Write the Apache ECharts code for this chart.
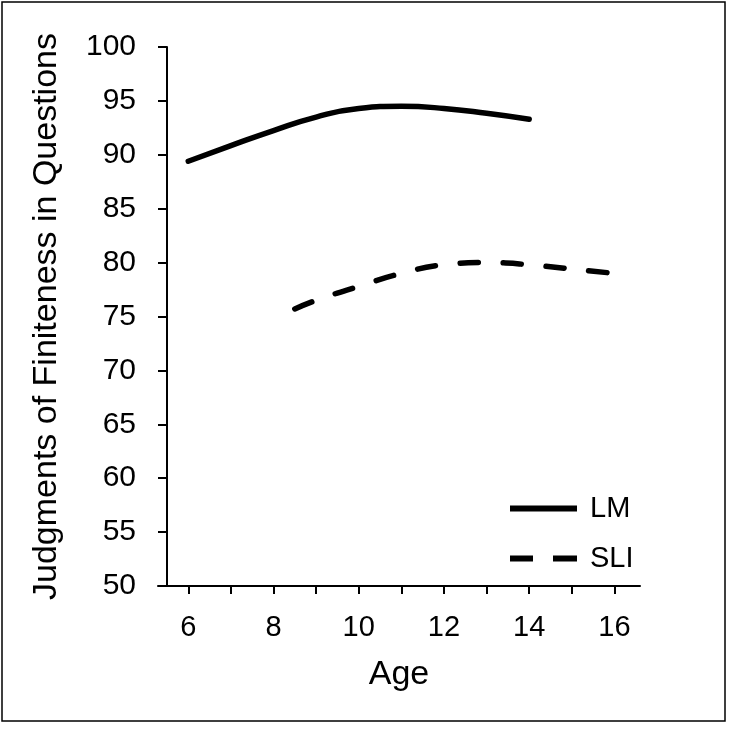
<!DOCTYPE html>
<html>
<head>
<meta charset="utf-8">
<script src="https://cdn.jsdelivr.net/npm/echarts@6/dist/echarts.min.js"></script>
<style>
  html, body { margin: 0; padding: 0; background: #fff; }
  #main { width: 729px; height: 729px; }
</style>
</head>
<body>
<div id="main"></div>
<script>
// values
var lmAges = [6, 7, 8, 9, 10, 11, 12, 13, 14];
var lmValues = [89.4, 90.85, 92.25, 93.5, 94.3, 94.5, 94.3, 93.85, 93.3];
var sliAges = [8.5, 9, 10, 11, 12, 13, 14, 15, 16];
var sliValues = [75.7, 76.5, 77.8, 79.0, 79.8, 80.0, 79.8, 79.4, 79.0];
var xTicks = [6, 7, 8, 9, 10, 11, 12, 13, 14, 15, 16];
var xLabels = [6, 8, 10, 12, 14, 16];

function pairs(xs, ys) {
    return xs.map(function (x, i) { return [x, ys[i]]; });
}

var font = 'Liberation Sans, Arial, sans-serif';
var chart = echarts.init(document.getElementById('main'));

// legend icons: solid bar and two dashes, both 67 x 6
var solidIcon = 'path://M0,0h67v6h-67z';
var dashIcon = 'path://M0,0h23v6h-23z M43,0h24v6h-24z';

var option = {
    animation: false,
    backgroundColor: '#fff',
    graphic: [{
        type: 'rect',
        shape: { x: 2, y: 2, width: 723, height: 719 },
        style: { fill: 'none', stroke: '#000', lineWidth: 1.5 }
    }],
    grid: { left: 158, right: 89, top: 47, bottom: 143 },
    legend: {
        orient: 'vertical',
        left: 505,
        top: 489,
        itemWidth: 67,
        itemHeight: 6,
        itemGap: 21,
        textStyle: { fontFamily: font, fontSize: 29, color: '#000', padding: [0, 0, 0, 8] },
        data: [
            { name: 'LM', icon: solidIcon },
            { name: 'SLI', icon: dashIcon }
        ]
    },
    xAxis: {
        type: 'value',
        min: 5.29,
        max: 16.6,
        name: 'Age',
        nameLocation: 'middle',
        nameGap: 72,
        nameTextStyle: { fontFamily: font, fontSize: 34, color: '#000' },
        axisLine: { lineStyle: { color: '#000', width: 2 } },
        axisTick: { length: 8, lineStyle: { color: '#000', width: 2 }, customValues: xTicks },
        axisLabel: { fontFamily: font, fontSize: 29, color: '#000', margin: 27, customValues: xLabels },
        splitLine: { show: false }
    },
    yAxis: {
        type: 'value',
        min: 50,
        max: 100,
        interval: 5,
        offset: -9,
        name: 'Judgments of Finiteness in Questions',
        nameLocation: 'middle',
        nameGap: 103,
        nameTextStyle: { fontFamily: font, fontSize: 34, color: '#000' },
        axisLine: { show: true, lineStyle: { color: '#000', width: 2 } },
        axisTick: { show: true, length: 9, lineStyle: { color: '#000', width: 2 } },
        axisLabel: { fontFamily: font, fontSize: 30, color: '#000', margin: 31 },
        splitLine: { show: false }
    },
    series: [
        {
            name: 'LM',
            type: 'line',
            smooth: 0.5,
            symbol: 'none',
            data: pairs(lmAges, lmValues),
            lineStyle: { color: '#000', width: 5.5, cap: 'round' },
            itemStyle: { color: '#000' }
        },
        {
            name: 'SLI',
            type: 'line',
            smooth: 0.5,
            symbol: 'none',
            data: pairs(sliAges, sliValues),
            lineStyle: { color: '#000', width: 5.5, type: [18.5, 24.5], cap: 'round' },
            itemStyle: { color: '#000' }
        }
    ]
};

chart.setOption(option);
</script>
</body>
</html>
